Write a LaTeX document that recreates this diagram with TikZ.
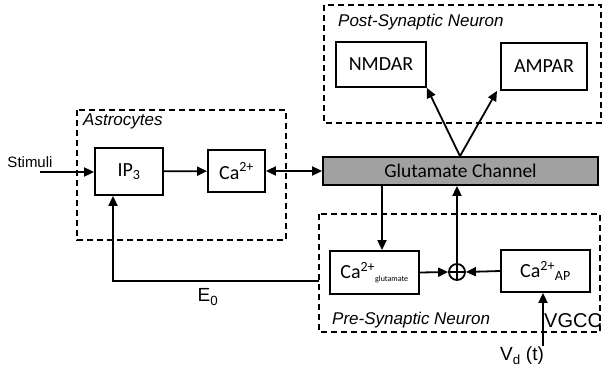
\documentclass[tikz,border=0pt]{standalone}
\usepackage{fontspec}
\setmainfont{Carlito}
\newfontfamily\arialf{Liberation Sans}
\usetikzlibrary{arrows.meta}
\begin{document}
\begin{tikzpicture}[x=1pt,y=-1pt,
  blk/.style={draw,line width=1.8pt,fill=white,inner sep=0pt,font=\fontsize{20}{22}\selectfont},
  grp/.style={draw,line width=1.7pt,dash pattern=on 6pt off 4pt},
  arr/.style={line width=1.8pt,-{Triangle[length=10pt,width=9pt]}},
  ln/.style={line width=1.8pt},
  lab/.style={font=\arialf\itshape\fontsize{17}{19}\selectfont,inner sep=0pt},
  txt/.style={font=\arialf\fontsize{17}{19}\selectfont,inner sep=0pt}]
\useasboundingbox (0,0) rectangle (603,375);
% groups
\draw[grp] (77,110) rectangle (286,240);
\draw[grp] (324,5) rectangle (601,123);
\draw[grp] (319,214) rectangle (600,332);
\node[lab,anchor=west] (astl) at (83,121) {Astrocytes};
\node[lab,anchor=west] (postl) at (338,22) {Post-Synaptic Neuron};
\node[lab,anchor=west] (prel) at (332,320) {Pre-Synaptic Neuron};
% blocks
\node[blk,minimum width=68pt,minimum height=47pt] (ip3) at (129,171.5) {IP\textsubscript{3}};
\node[blk,minimum width=57pt,minimum height=42pt] (ca) at (236.5,171) {Ca\textsuperscript{2+}};
\node[blk,fill=black!37,minimum width=275pt,minimum height=28pt,font=\fontsize{19.5}{21}\selectfont] (glu) at (460.5,171) {Glutamate Channel};
\node[blk,minimum width=90pt,minimum height=45pt] (nmdar) at (381,64.5) {NMDAR};
\node[blk,minimum width=86pt,minimum height=47pt] (ampar) at (544,66.5) {AMPAR};
\node[blk,minimum width=89pt,minimum height=43pt] (caglu) at (374.5,272.5) {Ca\textsuperscript{2+}\textsubscript{\fontsize{8}{9}\selectfont glutamate}};
\node[blk,minimum width=89pt,minimum height=42pt] (caap) at (545.5,271) {Ca\textsuperscript{2+}\textsubscript{AP}};
\node[draw,circle,line width=1.8pt,minimum size=16pt,inner sep=0pt] (sum) at (457,272) {};
\draw[ln] (sum.north) -- (sum.south) (sum.west) -- (sum.east);
% texts
\node[txt,font=\arialf\fontsize{15}{17}\selectfont] (stim) at (30,162) {Stimuli};
\node[txt,font=\arialf\fontsize{19}{21}\selectfont] (e0) at (208,297) {E\textsubscript{0}};
\node[txt,font=\arialf\fontsize{20}{22}\selectfont,anchor=west] (vgcc) at (544,321) {VGCC};
\node[txt,font=\arialf\fontsize{19}{21}\selectfont] (vd) at (522,356) {V\textsubscript{d} (t)};
% coordinates
\coordinate (stimS) at (40,172);
\coordinate (fbC) at (113,281);
\coordinate (fbE) at (319,281);
\coordinate (vgS) at (543,346);
% connectors
\draw[arr] (stimS) -- (stimS -| ip3.west);
\draw[arr] (ip3) -- (ca);
\draw[line width=1.8pt,{Triangle[length=10pt,width=9pt]}-{Triangle[length=10pt,width=9pt]}] (ca.east) -- (glu.west);
\draw[arr] (fbE) -- (fbC) -- (fbC |- ip3.south);
\draw[arr] (glu.north -| 460,0) -- (nmdar.south east);
\draw[arr] (glu.north -| 460,0) -- (ampar.south -| 497,0);
\draw[arr] (glu.south -| 382,0) -- (caglu.north -| 382,0);
\draw[arr] (sum.north) -- (glu.south -| sum);
\draw[arr] (caglu.east) -- (sum.west);
\draw[arr] (caap.west) -- (sum.east);
\draw[arr] (vgS) -- (vgS |- caap.south);
\end{tikzpicture}
\end{document}
